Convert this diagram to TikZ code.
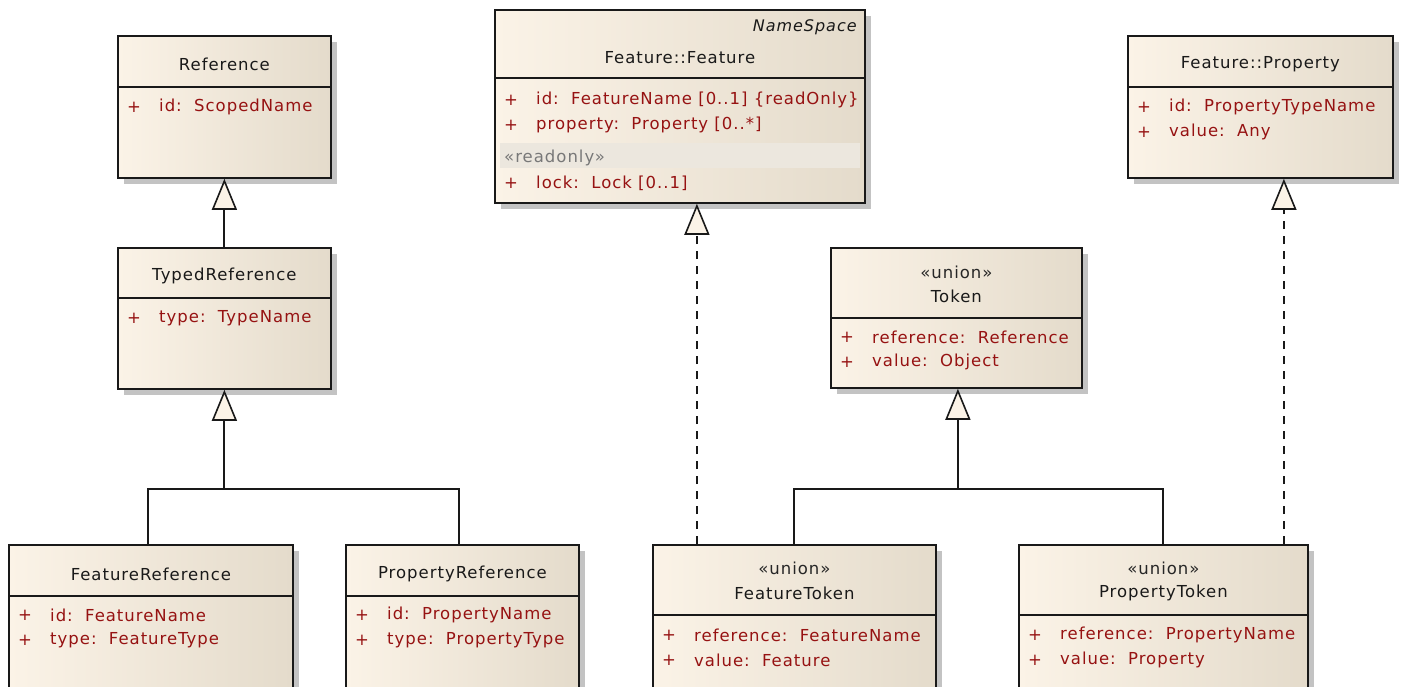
\documentclass[tikz,border=0pt]{standalone}
\usepackage{fontspec}
\setmainfont{DejaVu Sans}[LetterSpace=6]
\usetikzlibrary{arrows.meta,calc,shadows}

\definecolor{clsL}{RGB}{251,243,231}
\definecolor{clsR}{RGB}{228,219,203}
\definecolor{attrc}{RGB}{150,18,18}
\definecolor{shadc}{RGB}{195,195,195}
\definecolor{bandc}{RGB}{236,231,222}
\definecolor{stereoc}{RGB}{120,120,120}

\tikzset{
  classbox/.style={draw=black!90, line width=1.8pt, rectangle, inner sep=0pt,
    anchor=north west, left color=clsL, right color=clsR,
    drop shadow={shadow xshift=6pt, shadow yshift=-6pt, fill=shadc, opacity=1}},
  ttl/.style={inner sep=0pt, font=\fontsize{16.5}{18}\selectfont, text=black!90},
  attrtxt/.style={inner sep=0pt, anchor=west, font=\fontsize{16.5}{18}\selectfont, text=attrc},
  stereo/.style={inner sep=0pt, font=\fontsize{16.5}{18}\selectfont, text=black!85},
  divider/.style={line width=1.8pt, draw=black!90},
  link/.style={line width=2pt, draw=black!90},
  gen/.style={link, -{Triangle[length=31pt, width=25pt, fill=clsL, line width=1.6pt]}},
  realize/.style={gen, dash pattern=on 8pt off 7pt},
}

% one attribute row: box, row tag, offset from the top edge, text
\newcommand\uattr[4]{%
  \node[attrtxt] (#1-p#2) at ($(#1.north west)+(10,#3)$) {+};
  \node[attrtxt] (#1-a#2) at ($(#1.north west)+(42,#3)$) {#4};}
% horizontal compartment line at a given offset from the top edge
\newcommand\udiv[2]{%
  \draw[divider] ($(#1.north west)+(0,#2)$) -- ($(#1.north east)+(0,#2)$);}
% colon followed by the wide gap used before a type name
\newcommand\cs{:\hspace{0.75em}}

\begin{document}
\begin{tikzpicture}[x=1pt, y=-1pt]
\useasboundingbox (0,0) rectangle (1402,686);
\fill[white] (0,0) rectangle (1402,686);
\clip (0,0) rectangle (1402,686);

% ---- Reference hierarchy ----
\node[classbox, minimum width=213pt, minimum height=142pt] (ref) at (117,35) {};
\node[ttl] (ref-t) at ($(ref.north)+(0,29)$) {Reference};
\udiv{ref}{52}
\uattr{ref}{1}{72}{id\cs ScopedName}

\node[classbox, minimum width=213pt, minimum height=141pt] (tref) at (117,247) {};
\node[ttl] (tref-t) at ($(tref.north)+(0,29)$) {TypedReference};
\udiv{tref}{51}
\uattr{tref}{1}{71}{type\cs TypeName}

\node[classbox, minimum width=284pt, minimum height=160pt] (fref) at (8,544) {};
\node[ttl] (fref-t) at ($(fref.north)+(0,30)$) {FeatureReference};
\udiv{fref}{52}
\uattr{fref}{1}{71}{id\cs FeatureName}
\uattr{fref}{2}{96}{type\cs FeatureType}

\node[classbox, minimum width=233pt, minimum height=160pt] (pref) at (345,544) {};
\node[ttl] (pref-t) at ($(pref.north)+(0,30)$) {PropertyReference};
\udiv{pref}{52}
\uattr{pref}{1}{71}{id\cs PropertyName}
\uattr{pref}{2}{96}{type\cs PropertyType}

% ---- Feature::Feature ----
\node[classbox, minimum width=370pt, minimum height=193pt] (feat) at (494,9) {};
\fill[bandc] ($(feat.north west)+(6,134)$) rectangle ($(feat.north east)+(-6,159)$);
\node[ttl, anchor=east, font=\fontsize{16}{18}\selectfont\itshape] (feat-ns) at ($(feat.north east)+(-9,18)$) {NameSpace};
\node[ttl] (feat-t) at ($(feat.north)+(0,49)$) {Feature::Feature};
\udiv{feat}{69}
\uattr{feat}{1}{91}{id\cs FeatureName [0..1] \{readOnly\}}
\uattr{feat}{2}{116}{property\cs Property [0..*]}
\node[attrtxt, text=stereoc] (feat-ro) at ($(feat.north west)+(10,149)$) {«readonly»};
\uattr{feat}{3}{174}{lock\cs Lock [0..1]}

% ---- Feature::Property ----
\node[classbox, minimum width=265pt, minimum height=142pt] (prop) at (1127,35) {};
\node[ttl] (prop-t) at ($(prop.north)+(0,29)$) {Feature::Property};
\udiv{prop}{52}
\uattr{prop}{1}{72}{id\cs PropertyTypeName}
\uattr{prop}{2}{97}{value\cs Any}

% ---- Token hierarchy ----
\node[classbox, minimum width=251pt, minimum height=140pt] (tok) at (830,247) {};
\node[stereo] (tok-s) at ($(tok.north)+(0,25)$) {«union»};
\node[ttl] (tok-t) at ($(tok.north)+(0,49)$) {Token};
\udiv{tok}{71}
\uattr{tok}{1}{90}{reference\cs Reference}
\uattr{tok}{2}{115}{value\cs Object}

\node[classbox, minimum width=283pt, minimum height=160pt] (ftok) at (652,544) {};
\node[stereo] (ftok-s) at ($(ftok.north)+(0,24)$) {«union»};
\node[ttl] (ftok-t) at ($(ftok.north)+(0,49)$) {FeatureToken};
\udiv{ftok}{71}
\uattr{ftok}{1}{91}{reference\cs FeatureName}
\uattr{ftok}{2}{116}{value\cs Feature}

\node[classbox, minimum width=289pt, minimum height=160pt] (ptok) at (1018,544) {};
\node[stereo] (ptok-s) at ($(ptok.north)+(0,24)$) {«union»};
\node[ttl] (ptok-t) at ($(ptok.north)+(0,49)$) {PropertyToken};
\udiv{ptok}{71}
\uattr{ptok}{1}{91}{reference\cs PropertyName}
\uattr{ptok}{2}{116}{value\cs Property}

% ---- generalizations ----
\draw[gen] (tref.north) -- (ref.south);

\coordinate (jref) at ($(tref.south)+(0,99)$);
\draw[link] ([xshift=-3pt]fref.north) |- (jref) -| ([xshift=-3pt]pref.north);
\draw[gen] (jref) -- (tref.south);

\coordinate (jtok) at ($(tok.south)+(1.5,100)$);
\draw[link] (ftok.north) |- (jtok) -| (ptok.north);
\draw[gen] (jtok) -- (tok.south -| jtok);

% ---- realizations ----
\coordinate (featin) at ($(feat.south)+(17,0)$);
\draw[realize] (featin |- ftok.north) -- (featin);
\coordinate (propin) at ($(prop.south)+(23.5,0)$);
\draw[realize] (propin |- ptok.north) -- (propin);
\end{tikzpicture}
\end{document}
